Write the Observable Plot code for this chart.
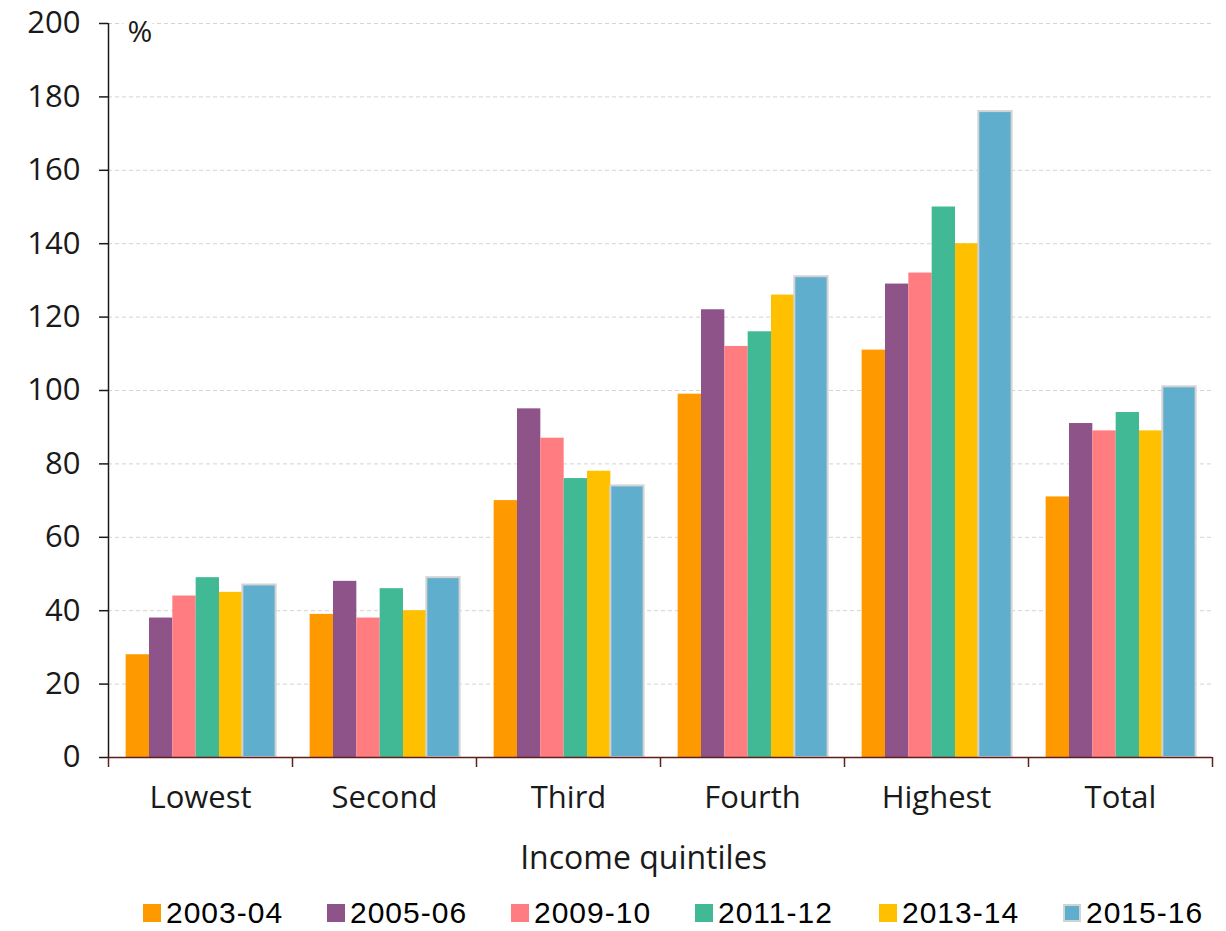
<!DOCTYPE html>
<html>
<head>
<meta charset="utf-8">
<script src="https://cdn.jsdelivr.net/npm/d3@7"></script>
<script src="https://cdn.jsdelivr.net/npm/@observablehq/plot@0.6"></script>
<style>
  html, body { margin: 0; padding: 0; background: #fff; }
  #chart { width: 1226px; height: 931px; position: relative; overflow: hidden; }
  #legend { position: absolute; left: 0; top: 896px; height: 34px; padding-left: 143px; box-sizing: border-box; display: flex; align-items: center; font-family: "Liberation Sans", Arial, sans-serif; font-size: 30px; line-height: 34px; letter-spacing: 1px; color: #000; }
  .item { width: 184px; height: 34px; display: flex; align-items: center; flex: none; }
  .sw { width: 18px; height: 18px; margin-right: 5px; flex: none; box-sizing: border-box; }
</style>
</head>
<body>
<div id="chart"></div>
<script>
const categories = ["Lowest", "Second", "Third", "Fourth", "Highest", "Total"];
const years = ["2003-04", "2005-06", "2009-10", "2011-12", "2013-14", "2015-16"];
const v2003_04 = [28, 39, 70, 99, 111, 71];
const v2005_06 = [38, 48, 95, 122, 129, 91];
const v2009_10 = [44, 38, 87, 112, 132, 89];
const v2011_12 = [49, 46, 76, 116, 150, 94];
const v2013_14 = [45, 40, 78, 126, 140, 89];
const v2015_16 = [47, 49, 74, 131, 176, 101];
const yTicks = [0, 20, 40, 60, 80, 100, 120, 140, 160, 180, 200];
const colors = ["#FF9900", "#8E5388", "#FF7C80", "#42B995", "#FFC000", "#60AECD"];

const series = [v2003_04, v2005_06, v2009_10, v2011_12, v2013_14, v2015_16];

// layout within each category group (in group units)
const padL = 0.096, bw = 0.1268, lastExtra = 0.054;
const rows = [];
categories.forEach((cat, i) => {
  years.forEach((yr, j) => {
    const x1 = i + padL + j * bw;
    rows.push({cat, year: yr, value: series[j][i], x1, x2: x1 + bw + (j === years.length - 1 ? lastExtra : 0), last: j === years.length - 1});
  });
});

const font = "'Open Sans', 'DejaVu Sans', sans-serif";
const maroon = "#5E1E1E";

const plot = Plot.plot({
  width: 1226,
  height: 890,
  marginLeft: 108,
  marginRight: 14,
  marginTop: 23,
  marginBottom: 133,
  style: {fontFamily: font, fontSize: "30px", color: "#1a1a1a", background: "#fff"},
  x: {type: "linear", domain: [0, categories.length], axis: null},
  y: {domain: [0, 200], axis: null},
  color: {domain: years, range: colors},
  marks: [
    Plot.ruleY(yTicks.filter(d => d > 0), {stroke: "#d4d4d4", strokeWidth: 1, strokeDasharray: "4,3"}),
    Plot.rectY(rows.filter(d => !d.last), {x1: "x1", x2: "x2", y: "value", fill: "year"}),
    Plot.rectY(rows.filter(d => d.last), {x1: "x1", x2: "x2", y: "value", fill: "year", stroke: "#d3d3d3", strokeWidth: 2}),
    Plot.ruleX([0], {y1: 0, y2: 200, stroke: "#1a1a1a", strokeWidth: 1.5}),
    Plot.axisY({ticks: yTicks, tickSize: 9, tickPadding: 19, fontSize: 31, stroke: "#1a1a1a", strokeWidth: 1.5, label: null, tickFormat: d => String(d)}),
    Plot.ruleY([0], {stroke: maroon, strokeWidth: 1.5}),
    Plot.axisX({ticks: d3.range(0, categories.length + 1), tickSize: 10, tickFormat: () => "", stroke: maroon, strokeWidth: 1.5, label: null}),
    Plot.axisX({ticks: categories.map((c, i) => i + 0.5), tickSize: 0, tickPadding: 28, fontSize: 31, tickFormat: d => categories[Math.floor(d)], label: null}),
    Plot.text(["Income quintiles"], {frameAnchor: "bottom", lineAnchor: "top", dx: -17, dy: 89, fontSize: 32, fill: "#1a1a1a"}),
    Plot.text(["%"], {frameAnchor: "top-left", textAnchor: "start", lineAnchor: "top", dx: 19, dy: -3, fontSize: 30, fill: "#1a1a1a", stroke: "#fff", strokeWidth: 12, paintOrder: "stroke"})
  ]
});

const chart = document.getElementById("chart");
chart.appendChild(plot);

const legend = document.createElement("div");
legend.id = "legend";
years.forEach((yr, j) => {
  const item = document.createElement("div");
  item.className = "item";
  const sw = document.createElement("span");
  sw.className = "sw";
  sw.style.background = colors[j];
  if (j === years.length - 1) sw.style.border = "2px solid #d3d3d3";
  const t = document.createElement("span");
  t.textContent = yr;
  item.appendChild(sw);
  item.appendChild(t);
  legend.appendChild(item);
});
chart.appendChild(legend);
</script>
</body>
</html>
